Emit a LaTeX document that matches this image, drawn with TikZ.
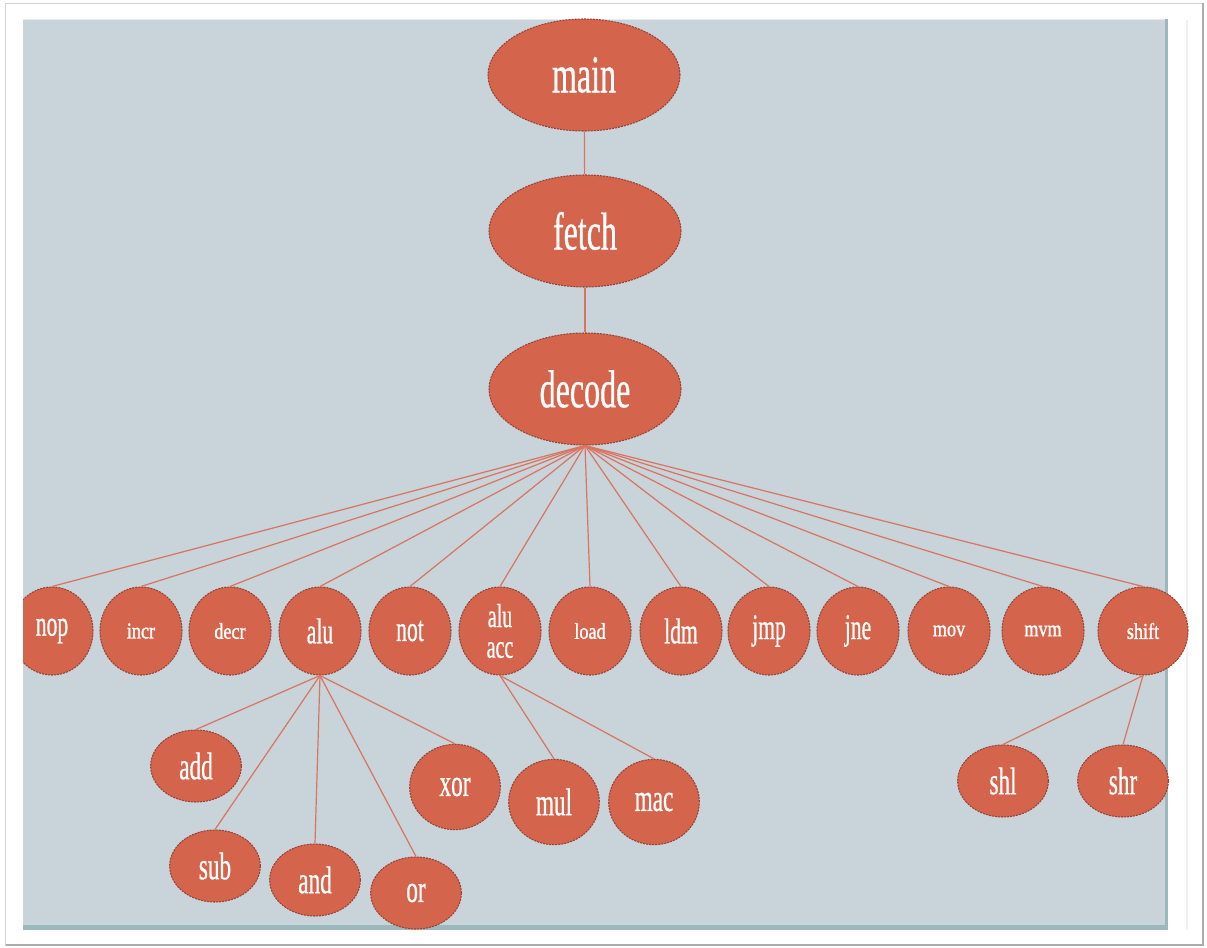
\documentclass[tikz,border=0pt]{standalone}
\usepackage{fontspec}
\setmainfont{Liberation Serif}
\newfontfamily\tallfont[FakeStretch=0.6,FakeBold=0.6]{Liberation Serif}
\newfontfamily\widefont[FakeStretch=0.8,FakeBold=1.2]{Liberation Serif}
\usetikzlibrary{shapes.geometric}
\definecolor{bgc}{RGB}{200,211,218}
\definecolor{nodefill}{RGB}{212,101,76}
\definecolor{nodeline}{RGB}{150,66,54}
\definecolor{edgec}{RGB}{216,116,96}
\definecolor{stripc}{RGB}{155,185,188}
\begin{document}
\begin{tikzpicture}[x=0.75pt,y=-0.75pt,
 bubble/.style={ellipse, fill=nodefill, draw=nodeline, dash pattern=on 1.5pt off 0.8pt, line width=0.8pt, inner sep=0pt, text=white, align=center},
 topnode/.style={bubble, minimum width=144pt, minimum height=84pt, font=\tallfont\fontsize{40}{44}\selectfont},
 rownode/.style={bubble, minimum width=61.5pt, minimum height=66pt, font=\tallfont\fontsize{27}{23}\selectfont},
 rowsmall/.style={bubble, minimum width=61.5pt, minimum height=66pt, font=\widefont\fontsize{17}{20}\selectfont},
 leafnode/.style={bubble, minimum width=68pt, minimum height=54pt, font=\tallfont\fontsize{29}{30}\selectfont},
 link/.style={draw=edgec, line width=0.9pt}]
\useasboundingbox (0,0) rectangle (1207,947);
% frame
\draw[gray!35, line width=0.75pt] (5.5,3) rectangle (1203,945);
\draw[gray!65, line width=1.5pt] (1203,3) -- (1203,945) -- (5.5,945);
\draw[gray!12, line width=1.2pt] (1187,20) -- (1187,930);
% background
\fill[bgc] (23,19) rectangle (1168,930);
\draw[white!55!bgc, line width=1pt] (23,19.5) -- (1168,19.5);
\fill[stripc] (23,925) rectangle (1168,930);
\fill[stripc] (1164.5,19) rectangle (1168,930);
% top chain
\node[topnode] (main) at (584,75) {main};
\node[topnode] (fetch) at (585,231) {fetch};
\node[topnode] (decode) at (585,389) {decode};
% row
\begin{scope}
\clip (23,0) rectangle (1207,947);
\node[rownode] (nop) at (52,631) {nop};
\end{scope}
\node[rowsmall] (incr) at (141,631) {incr};
\node[rowsmall] (decr) at (230,631) {decr};
\node[rownode] (alu) at (320,631) {alu};
\node[rownode] (not) at (410,631) {not};
\node[rownode, font=\tallfont\fontsize{25}{23}\selectfont] (aluacc) at (500,631) {alu\\acc};
\node[rowsmall] (load) at (590,631) {load};
\node[rownode] (ldm) at (681,631) {ldm};
\node[rownode] (jmp) at (769,631) {jmp};
\node[rownode] (jne) at (858,631) {jne};
\node[rowsmall] (mov) at (949,631) {mov};
\node[rowsmall] (mvm) at (1043,631) {mvm};
\node[rowsmall, minimum width=67.5pt] (shift) at (1143,631) {shift};
% leaves
\node[leafnode] (add) at (196,766) {add};
\node[leafnode] (sub) at (215,866) {sub};
\node[leafnode] (and) at (315,880) {and};
\node[leafnode] (or) at (416,893) {or};
\node[leafnode, minimum height=64pt] (xor) at (455,787) {xor};
\node[leafnode, minimum height=64pt] (mul) at (554,802) {mul};
\node[leafnode, minimum height=64pt] (mac) at (654,802) {mac};
\node[leafnode] (shl) at (1003,781) {shl};
\node[leafnode] (shr) at (1123,781) {shr};
% edges
\draw[link] (main) -- (fetch);
\draw[link] (fetch) -- (decode);
\foreach \c in {nop,incr,decr,alu,not,aluacc,load,ldm,jmp,jne,mov,mvm,shift}
  \draw[link] (decode.south) -- (\c.north);
\foreach \c in {add,sub,and,or,xor}
  \draw[link] (alu.south) -- (\c.north);
\foreach \c in {mul,mac}
  \draw[link] (aluacc.south) -- (\c.north);
\foreach \c in {shl,shr}
  \draw[link] (shift.south) -- (\c.north);
\end{tikzpicture}
\end{document}
